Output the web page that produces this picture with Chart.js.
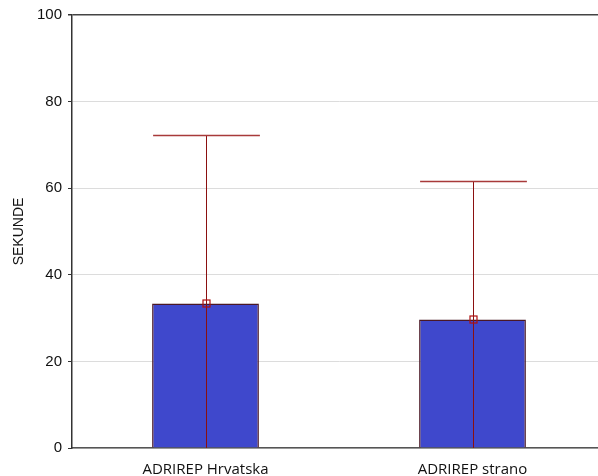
<!DOCTYPE html>
<html>
<head>
<meta charset="utf-8">
<script src="https://cdn.jsdelivr.net/npm/chart.js@4"></script>
<style>
  html, body { margin: 0; padding: 0; background: #fff; overflow: hidden; }
  #wrap { width: 598px; height: 476px; overflow: hidden; }
</style>
</head>
<body>
<div id="wrap"><canvas id="chart" width="606" height="476"></canvas></div>
<script>
const categories = ['ADRIREP Hrvatska', 'ADRIREP strano'];
const means = [33.4, 29.7];
const upperLimits = [72.4, 61.6];
const yTicks = [0, 20, 40, 60, 80, 100];

// error bars: line from base to upper limit, cap and small square at the mean
const errorBars = {
  id: 'errorBars',
  afterDatasetsDraw(chart) {
    const ctx = chart.ctx;
    const yScale = chart.scales.y;
    const meta = chart.getDatasetMeta(0);
    meta.data.forEach((bar, i) => {
      const x = Math.round(bar.x) + 0.5;
      const base = yScale.getPixelForValue(0);
      const top = Math.round(yScale.getPixelForValue(upperLimits[i])) + 0.5;
      const mid = yScale.getPixelForValue(means[i]);
      const half = bar.width / 2;
      ctx.save();
      ctx.lineWidth = 1;
      ctx.strokeStyle = '#8b1010';
      ctx.beginPath();
      ctx.moveTo(x, base);
      ctx.lineTo(x, top);
      ctx.stroke();
      ctx.strokeStyle = '#a83a3a';
      ctx.lineWidth = 1.5;
      ctx.beginPath();
      ctx.moveTo(x - half, top);
      ctx.lineTo(x + half, top);
      ctx.stroke();
      ctx.lineWidth = 1.2;
      ctx.strokeStyle = '#b01010';
      ctx.strokeRect(x - 3.5, Math.round(mid) - 3, 7, 7);
      ctx.restore();
    });
  }
};

new Chart(document.getElementById('chart'), {
  type: 'bar',
  data: {
    labels: categories,
    datasets: [{
      data: means,
      backgroundColor: '#3f48cc',
      borderColor: '#4a1826',
      borderWidth: 1.5,
      categoryPercentage: 1,
      barPercentage: 0.4
    }]
  },
  options: {
    responsive: false,
    animation: false,
    layout: { padding: { top: 15, right: 0, left: 0, bottom: 0 } },
    plugins: { legend: { display: false }, tooltip: { enabled: false } },
    scales: {
      x: {
        grid: { display: false, drawTicks: false },
        border: { display: true, color: '#555', width: 1.5 },
        ticks: { color: '#111', font: { family: 'Open Sans', size: 15 }, padding: 13 },
        afterFit(scale) { scale.height = 28; }
      },
      y: {
        min: 0,
        max: 100,
        afterBuildTicks(scale) { scale.ticks = yTicks.map(v => ({ value: v })); },
        grid: {
          color: c => (c.tick && c.tick.value === 100 ? '#444' : '#dcdcdc'),
          tickColor: '#333',
          tickLength: 4,
          lineWidth: c => (c.tick && c.tick.value === 100 ? 1.5 : 1)
        },
        border: { display: true, color: '#333', width: 1.5 },
        ticks: { color: '#111', font: { family: 'Liberation Sans', size: 15 }, padding: 6 },
        title: {
          display: true,
          text: 'SEKUNDE',
          color: '#111',
          font: { family: 'Liberation Sans', size: 14 },
          padding: { top: 11, bottom: 4 }
        },
        afterFit(scale) { scale.width = 72; }
      }
    }
  },
  plugins: [errorBars]
});
</script>
</body>
</html>
